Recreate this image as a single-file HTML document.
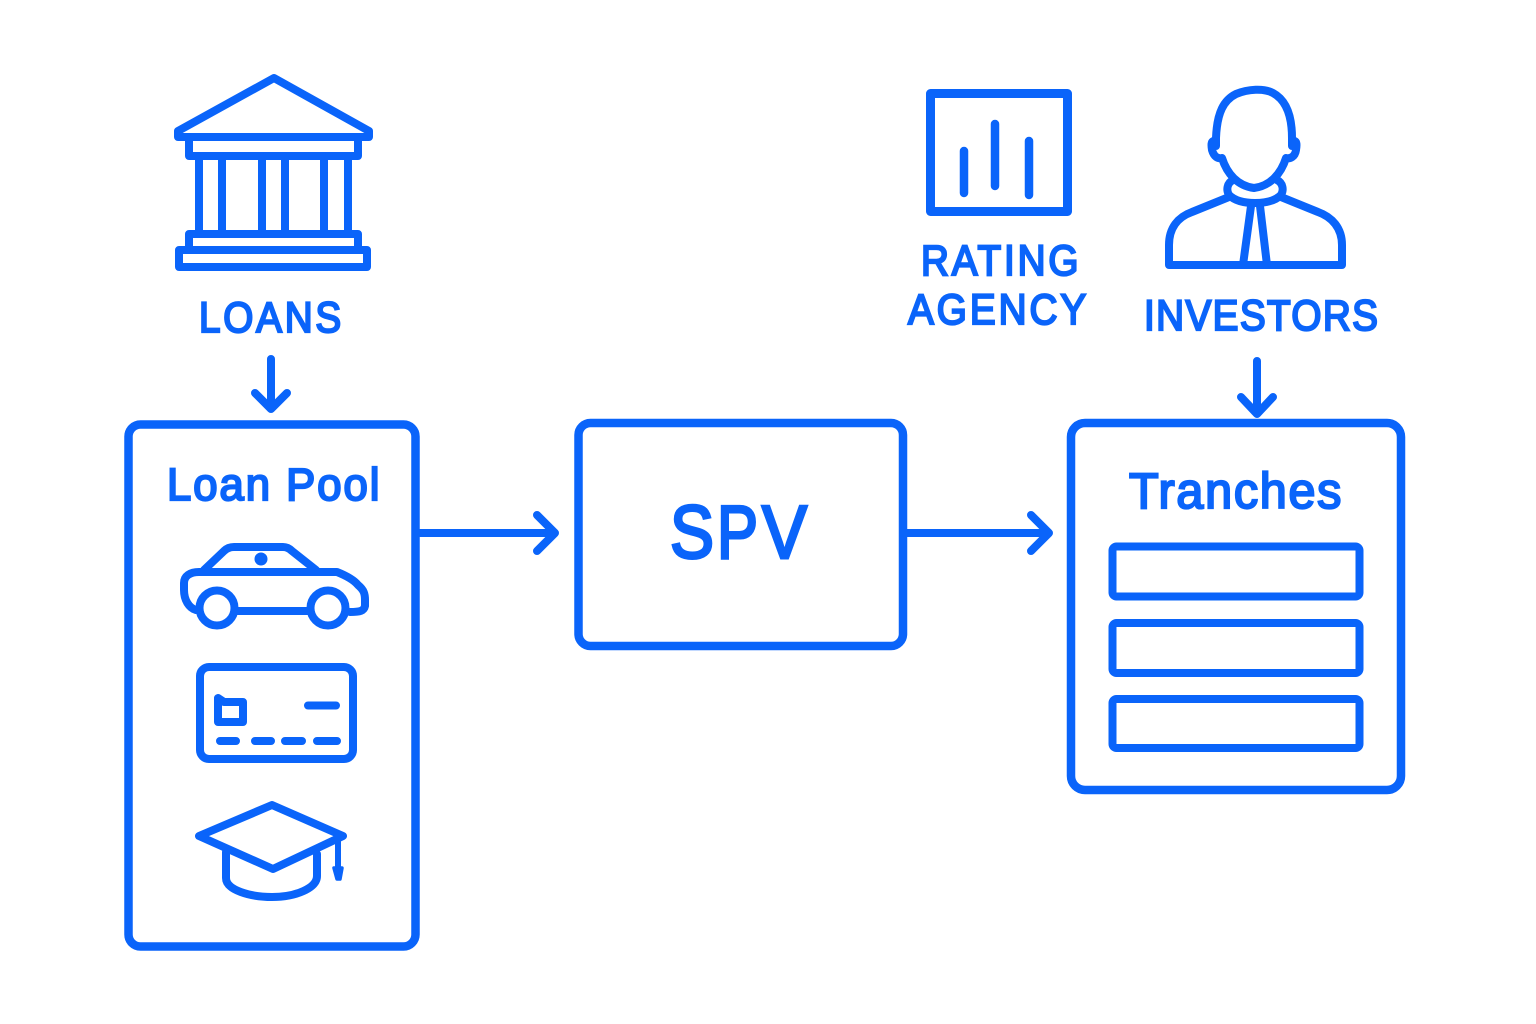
<!DOCTYPE html>
<html><head><meta charset="utf-8"><style>
html,body{margin:0;padding:0;background:#fff}
svg{display:block}
text{font-family:"Liberation Sans",sans-serif;fill:#0a64fa;stroke:#0a64fa;stroke-width:2.2px}
.s{fill:none;stroke:#0a64fa;stroke-width:8;stroke-linejoin:round;stroke-linecap:round}
</style></head><body>
<svg width="1536" height="1024" viewBox="0 0 1536 1024" xmlns="http://www.w3.org/2000/svg">
<rect width="1536" height="1024" fill="#fff"/>
<g class="s">
<!-- bank -->
<path d="M274 78 L178 131 V137 H369 V131 Z"/>
<path d="M189 137 V156 H358 V137"/>
<path d="M199 157V233M222 157V233M262 157V233M285 157V233M324 157V233M348 157V233"/>
<rect x="189" y="234" width="169" height="16"/>
<rect x="179" y="250" width="188" height="17"/>
<!-- rating -->
<rect x="930.5" y="93.5" width="137" height="118" stroke-width="9"/>
<path d="M964 151V193M995 124V186M1029 141V195" stroke-width="8.5"/>
<!-- person -->
<path d="M1216 146 V138 C1217 112 1224 100 1236 94 C1248 89 1264 88 1273 93 C1286 100 1292 116 1292 138 V146"/>
<path d="M1216 141 C1211 140 1211 144 1212 150 C1214 157 1218 159 1222 158 C1227 174 1238 186 1254 188 C1270 186 1281 174 1286 158 C1290 159 1295 157 1296 150 C1297 144 1297 140 1292 141"/>
<path d="M1233 180 C1227 183 1226 190 1229 195 C1235 201 1245 203 1255 203 C1265 203 1275 201 1281 195 C1284 190 1283 183 1277 180"/>
<path d="M1229 197 L1192 212 C1178 217 1169 228 1169 245 V265 H1342 V245 C1342 228 1332 217 1318 212 L1281 197"/>
<path d="M1251 206 L1243 265M1260 206 L1267 265"/>
<!-- boxes -->
<rect x="128.500" y="424.500" width="287" height="522" rx="12" stroke-width="8.500"/>
<rect x="578.500" y="423" width="324.500" height="223" rx="12" stroke-width="8.500"/>
<rect x="1071" y="423" width="330" height="367" rx="14" stroke-width="8.500"/>
<rect x="1112.500" y="546.500" width="247" height="50" rx="4"/>
<rect x="1112.500" y="623" width="247" height="50" rx="4"/>
<rect x="1112.500" y="699" width="247" height="49" rx="4"/>
<!-- arrows -->
<path d="M271 359V406M255 393L271 409L287 393"/>
<path d="M1257 361V412M1241 397L1257 414L1273 397"/>
<path d="M420 533H553M537 515L555 533L537 551"/>
<path d="M906 533H1047M1031 515L1049 533L1031 551"/>
<!-- car -->
<path d="M204 570 L224 551 Q228 547 234 547 H283 Q288 547 292 551 L316 570"/>
<path d="M196 610 C189 608 184 600 184 590 V583 C184 576 190 572 199 572 H337 C347 576 354 580 358 585 C364 590 365 594 365 600 V606 C364 611 360 612 350 612"/>
<path d="M235 611H309"/>
<circle cx="217" cy="608" r="17.500"/>
<circle cx="328" cy="608" r="17.500"/>
<circle cx="261" cy="559" r="2.500" fill="#0a64fa"/>
<!-- card -->
<rect x="200" y="667" width="153" height="92" rx="9"/>
<path d="M218 698 V722 H243 V702 H224 Z"/>
<path d="M308 705.500H336M220 741H236M255 741H271M285 741H302M317 741H337"/>
<!-- cap -->
<path d="M272 805 L199 836 L273 869 L343 836 Z"/>
<path d="M226 852 V878 C226 890 250 897 272 897 C296 897 317 888 317 876 V854"/>
<path d="M338 840 V868" stroke-width="6"/>
<path d="M334 868 L342 868 L340 879 L337 879 Z" fill="#0a64fa" stroke-width="3.500"/>
</g>
<text transform="translate(199 332) scale(.9 1)" font-size="43" textLength="158" lengthAdjust="spacing">LOANS</text>
<text transform="translate(921 275) scale(.9 1)" font-size="43" textLength="175" lengthAdjust="spacing">RATING</text>
<text transform="translate(908 324) scale(.9 1)" font-size="43" textLength="198" lengthAdjust="spacing">AGENCY</text>
<text transform="translate(1144 330) scale(.9 1)" font-size="43" textLength="260" lengthAdjust="spacing">INVESTORS</text>
<text transform="translate(167 500) scale(.97 1)" font-size="45" textLength="219" lengthAdjust="spacing">Loan Pool</text>
<text transform="translate(1129 508) scale(.97 1)" font-size="50" textLength="219" lengthAdjust="spacing">Tranches</text>
<g style="font-size:75px">
<text x="670" y="558" textLength="44" lengthAdjust="spacingAndGlyphs" style="stroke-width:3px">S</text>
<text x="717" y="558" textLength="41" lengthAdjust="spacingAndGlyphs" style="stroke-width:3px">P</text>
<text x="762" y="558" textLength="45" lengthAdjust="spacingAndGlyphs" style="stroke-width:3px">V</text>
</g>
</svg>
</body></html>
